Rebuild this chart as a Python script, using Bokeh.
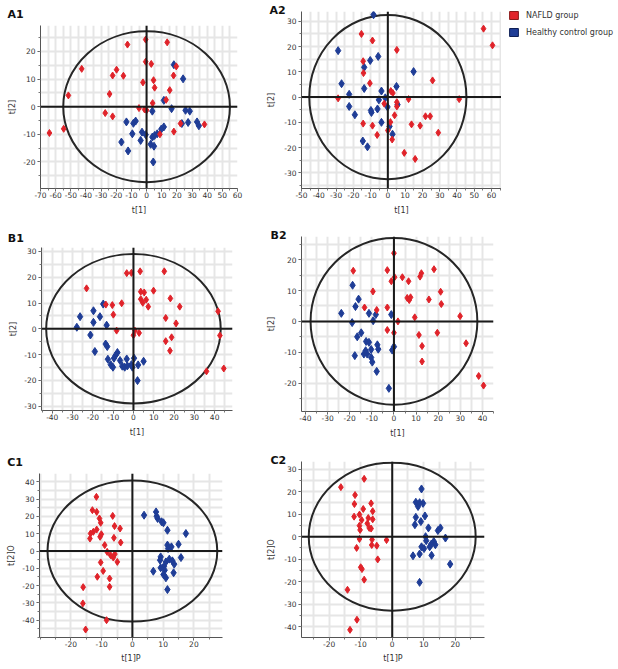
from bokeh.plotting import figure
from bokeh.layouts import row, column
from bokeh.models import Range1d, FixedTicker, Span, Title, Legend, LegendItem, Spacer
from bokeh.embed import file_html
from bokeh.resources import INLINE

RED = "#e0232a"
BLUE = "#1f3d96"
FONT = "DejaVu Sans"

# ---------------- data ----------------
a1_nafld_x = [-12.6, -0.6, 13.6, -0.6, 3.1, -42.8, -19.8, -22.4, -15.3, -2.4, 4.6, 17.8, 19.6, 5.3, 15.3, -24.4, -51.6, 4.0, 12.9, -5.0, -1.3, 0.0, -27.3, -22.4, -54.7, -64.1, 22.4, 38.2, 18.0, 8.8]
a1_nafld_y = [22.5, 24.3, 23.3, 16.3, 15.5, 13.7, 13.4, 11.3, 11.2, 8.8, 9.6, 11.3, 14.6, 6.9, 6.0, 4.6, 4.1, 1.3, 2.5, -0.5, -1.0, -1.3, -2.3, -3.5, -8.0, -9.5, -6.1, -6.4, -9.0, -10.0]
a1_ctrl_x = [18.0, 24.1, 11.4, 16.5, 25.7, 28.5, 3.8, -13.3, -7.2, -8.7, 27.4, 33.3, 34.5, 23.3, 11.4, 9.7, -9.4, -3.0, -0.6, 5.3, 3.8, -3.9, -16.6, 2.7, 4.9, -12.2, 4.4, 7.0]
a1_ctrl_y = [15.2, 10.1, 2.3, -0.7, -1.3, -1.6, -1.6, -5.5, -5.2, -6.0, -5.7, -5.5, -6.9, -6.1, -7.3, -8.1, -9.8, -9.2, -10.1, -10.4, -11.0, -12.2, -12.8, -13.6, -14.3, -16.0, -20.0, -9.8]

a2_nafld_x = [-15.3, -8.9, 5.2, -14.3, -14.1, -10.4, 25.9, 1.7, 2.9, -28.8, 12.0, 41.3, 5.2, 5.2, -2.1, 3.9, 21.8, 24.5, -14.3, -8.9, 1.5, 13.7, 18.7, -6.2, 0.0, 2.5, 29.2, 9.5, 15.8, 55.4, 60.6]
a2_nafld_y = [25.0, 22.4, 18.7, 14.2, 9.5, 5.5, 6.6, 2.4, 1.6, -0.5, -0.8, -0.8, -2.0, -3.7, -2.6, -7.2, -7.6, -7.6, -10.5, -11.3, -9.9, -10.8, -11.3, -15.0, -13.2, -16.8, -14.1, -22.1, -24.5, 27.1, 20.5]
a2_ctrl_x = [-8.3, -28.8, -5.6, -10.2, -13.7, 14.9, -26.8, -13.7, 5.0, -22.4, -3.7, -1.5, -5.2, -0.2, 5.6, -22.4, -6.0, -19.1, -9.5, -3.7, 1.0, 2.7, -14.5, -11.8, -9.8]
a2_ctrl_y = [32.6, 18.4, 16.1, 14.5, 11.8, 10.1, 5.3, 3.4, 4.2, 1.1, 2.4, -0.3, -1.1, -3.9, -3.0, -3.7, -4.7, -7.0, -6.1, -10.0, -11.6, -14.7, -17.4, -19.7, -5.3]

b1_nafld_x = [-23.1, -3.3, -1.0, 3.3, 15.2, 9.9, 5.3, 3.6, 18.2, 3.6, 6.3, 4.6, 7.3, 22.8, -5.8, -10.4, -9.9, -13.6, 41.7, 15.9, 21.0, -8.3, 0.7, 0.0, 2.8, 42.6, 18.8, 15.9, 18.0, 36.0, 44.5]
b1_nafld_y = [15.7, 21.6, 21.7, 22.3, 22.3, 14.8, 14.1, 14.4, 11.8, 11.5, 11.3, 10.1, 8.6, 8.6, 9.9, 9.2, 5.5, 9.4, 6.8, 4.2, 2.1, -0.7, -0.7, -2.5, -1.6, -2.6, -3.3, -4.8, -8.5, -16.5, -15.4]
b1_ctrl_x = [-14.9, -19.7, -26.3, -16.5, -19.7, -13.2, -27.9, -21.2, -13.7, -12.9, -19.0, -7.9, -8.8, -9.6, -12.6, -6.6, -3.3, 0.3, 5.0, -11.2, -10.1, -5.5, -4.3, -3.0, -1.0, 2.3, 2.0, -0.5]
b1_ctrl_y = [9.6, 7.0, 4.7, 4.7, 2.5, 1.4, 0.6, -2.4, -5.9, -6.9, -8.8, -9.2, -10.3, -11.4, -11.8, -12.3, -11.7, -11.4, -12.6, -13.9, -14.9, -14.5, -14.9, -14.4, -13.9, -14.0, -20.1, -14.9]

b2_nafld_x = [0.0, -18.4, -3.0, 18.1, 12.4, 11.8, 3.8, 0.3, -1.2, 6.6, -9.5, 21.1, 6.0, 7.5, 6.9, 15.8, 21.4, -13.3, -7.8, -3.0, 9.4, 29.9, 1.8, -3.0, 0.0, 11.3, 19.6, 32.6, 12.7, 12.7, 38.3, 40.5]
b2_nafld_y = [22.1, 16.4, 16.6, 16.9, 15.6, 14.5, 14.3, 14.3, 13.0, 13.0, 9.7, 9.6, 7.6, 7.8, 6.9, 7.1, 5.6, 4.5, 3.7, 4.5, 1.3, 1.7, 0.0, -2.8, -3.7, -4.4, -3.7, -7.1, -8.0, -13.0, -17.7, -20.8]
b2_ctrl_x = [-18.7, -16.0, -17.4, -23.8, -11.3, -8.2, -1.2, -18.9, -9.4, -14.8, -16.6, -12.6, -11.3, -7.5, -7.1, 0.0, -0.8, -10.3, -13.6, -12.1, -17.7, -10.3, -9.8, -7.8, -2.3, -12.8]
b2_ctrl_y = [11.7, 7.2, 4.8, 2.6, 2.6, 2.2, 2.2, -0.4, 0.2, -3.7, -5.0, -6.5, -6.8, -7.6, -9.0, -8.2, -9.3, -9.1, -10.6, -10.6, -11.1, -11.7, -13.2, -16.2, -21.7, -9.5]

c1_nafld_x = [-11.7, -13.0, -11.6, -6.4, -10.7, -10.3, -5.8, -4.0, -11.6, -12.7, -13.6, -10.1, -10.5, -13.8, -6.0, -3.8, -9.0, -8.2, -5.7, -7.1, -6.2, -10.3, -4.9, -9.5, -11.4, -7.4, -7.4, -16.0, -16.1, -8.4, -15.2]
c1_nafld_y = [31.3, 23.6, 22.6, 20.3, 18.8, 16.3, 14.4, 13.0, 12.4, 11.1, 10.1, 9.7, 8.2, 7.2, 7.6, 4.9, 3.4, -0.5, -1.8, -2.4, -3.8, -6.6, -6.3, -11.5, -14.9, -15.9, -20.7, -20.9, -30.3, -40.0, -45.4]
c1_ctrl_x = [3.8, 7.7, 7.9, 8.2, 9.5, 10.1, 11.4, 17.4, 15.0, 11.4, 12.7, 11.6, 9.2, 15.8, 12.0, 13.0, 13.6, 10.3, 9.2, 10.5, 6.8, 13.4, 10.1, 10.9, 11.4, 10.9, 9.0]
c1_ctrl_y = [20.7, 22.6, 20.1, 18.8, 16.9, 16.3, 12.0, 10.1, 3.9, 3.4, 2.4, 1.4, -3.4, -3.8, -4.7, -5.7, -7.6, -8.8, -9.7, -11.1, -11.7, -12.6, -13.6, -15.5, -22.3, -6.3, -5.3]

c2_nafld_x = [-8.9, -16.3, -11.8, -12.0, -6.7, -6.2, -9.2, -12.1, -10.4, -9.7, -7.6, -6.2, -7.9, -10.4, -10.2, -7.3, -6.7, -10.4, -6.4, -1.8, -6.5, -4.9, -11.3, -4.6, -10.0, -9.6, -8.9, -14.2, -11.2, -13.4]
c2_nafld_y = [25.7, 22.0, 18.5, 14.5, 14.8, 11.3, 12.3, 8.9, 9.8, 7.4, 8.3, 7.7, 5.9, 4.9, 3.0, 3.9, 3.6, -1.0, -1.3, -1.5, -3.7, -4.0, -5.0, -10.1, -13.6, -14.4, -19.1, -23.6, -36.9, -41.4]
c2_ctrl_x = [9.3, 7.5, 9.8, 8.2, 8.7, 10.4, 7.5, 9.1, 7.2, 11.5, 15.3, 14.5, 10.6, 16.9, 13.2, 12.4, 13.7, 9.3, 10.1, 11.9, 8.7, 6.6, 12.5, 18.4, 8.7, 10.8]
c2_ctrl_y = [21.2, 15.3, 14.8, 13.4, 15.1, 9.2, 8.6, 6.7, 5.3, 3.9, 3.9, 2.7, 0.0, -0.6, -2.1, -3.3, -3.6, -4.5, -5.3, -4.5, -7.7, -8.5, -8.3, -12.2, -20.3, -1.8]

# model ellipse semi-axes (Hotelling T2)
a1_ellipse = (55.0, 27.3)
a2_ellipse = (45.5, 32.5)
b1_ellipse = (43.0, 29.0)
b2_ellipse = (37.7, 27.0)
c1_ellipse = (27.6, 40.8)
c2_ellipse = (26.5, 32.9)

a1_xticks = list(range(-70, 61, 10)); a1_yticks = list(range(-20, 21, 10))
a2_xticks = list(range(-50, 61, 10)); a2_yticks = list(range(-30, 31, 10))
b1_xticks = list(range(-40, 41, 10)); b1_yticks = list(range(-30, 31, 10))
b2_xticks = list(range(-40, 41, 10)); b2_yticks = list(range(-20, 21, 10))
c1_xticks = list(range(-20, 21, 10)); c1_yticks = list(range(-40, 41, 10))
c2_xticks = list(range(-20, 21, 10)); c2_yticks = list(range(-40, 31, 10))

groups = ["NAFLD group", "Healthy control group"]


def panel(name, nx, ny, cx, cy, ell, xticks, yticks, xr, yr, xlabel, ylabel,
          width, height, borders, title_offset, title_standoff, yl_standoff=3, xl_standoff=5):
    bl, br, bt, bb = borders
    p = figure(width=width, height=height, output_backend="svg", toolbar_location=None,
               x_range=Range1d(*xr), y_range=Range1d(*yr),
               min_border_left=bl, min_border_right=br, min_border_top=bt, min_border_bottom=bb)
    p.title = Title(text=name, align="left", vertical_align="top", offset=title_offset,
                    standoff=title_standoff, text_font=FONT, text_font_size="11px",
                    text_font_style="bold", text_color="#111111")
    p.outline_line_color = None
    p.background_fill_color = "white"
    gx = [v for v in range(-100, 101, 5) if xr[0] <= v <= xr[1]]
    gy = [v for v in range(-100, 101, 5) if yr[0] <= v <= yr[1]]
    p.xgrid.ticker = FixedTicker(ticks=gx)
    p.ygrid.ticker = FixedTicker(ticks=gy)
    p.grid.grid_line_color = "#e6e6e6"
    p.grid.grid_line_width = 2
    p.xaxis.ticker = FixedTicker(ticks=xticks, minor_ticks=gx)
    p.yaxis.ticker = FixedTicker(ticks=yticks, minor_ticks=gy)
    p.xaxis.major_label_overrides = {t: str(t) for t in xticks}
    p.yaxis.major_label_overrides = {t: str(t) for t in yticks}
    for ax in (p.xaxis[0], p.yaxis[0]):
        ax.axis_line_color = "#555555"
        ax.major_tick_line_color = "#555555"
        ax.minor_tick_line_color = "#777777"
        ax.major_tick_out = 3
        ax.major_tick_in = 0
        ax.minor_tick_out = 2
        ax.minor_tick_in = 0
        ax.major_label_text_font = FONT
        ax.major_label_text_font_size = "7.5px"
        ax.major_label_text_color = "#333333"
        ax.axis_label_text_font = FONT
        ax.axis_label_text_font_size = "8px"
        ax.axis_label_text_font_style = "normal"
        ax.axis_label_text_color = "#333333"
    p.xaxis.axis_label = xlabel
    p.yaxis.axis_label = ylabel
    p.xaxis.major_label_standoff = 0
    p.xaxis.axis_label_standoff = xl_standoff
    p.yaxis.major_label_standoff = 2
    p.yaxis.axis_label_standoff = yl_standoff

    p.add_layout(Span(location=0, dimension="width", line_color="#1a1a1a", line_width=2))
    p.add_layout(Span(location=0, dimension="height", line_color="#1a1a1a", line_width=2))
    p.ellipse(x=[0], y=[0], width=[2 * ell[0]], height=[2 * ell[1]],
              fill_color=None, line_color="#262626", line_width=2)
    p.scatter(cx, cy, marker="diamond", size=8, fill_color=BLUE, line_color=BLUE)
    p.scatter(nx, ny, marker="diamond", size=7, fill_color=RED, line_color=RED)
    return p


a1 = panel("A1", a1_nafld_x, a1_nafld_y, a1_ctrl_x, a1_ctrl_y, a1_ellipse,
           a1_xticks, a1_yticks, (-70, 60), (-29.6, 29.4), "t[1]", "t[2]",
           258, 220, (40, 21, 23, 34), -33, 5)
a2 = panel("A2", a2_nafld_x, a2_nafld_y, a2_ctrl_x, a2_ctrl_y, a2_ellipse,
           a2_xticks, a2_yticks, (-50, 65.8), (-36.2, 33.9), "t[1]", "t[2]",
           243, 220, (43, 0, 9, 34), -32, -16, yl_standoff=5)
b1 = panel("B1", b1_nafld_x, b1_nafld_y, b1_ctrl_x, b1_ctrl_y, b1_ellipse,
           b1_xticks, b1_yticks, (-45.3, 48.8), (-31.7, 31.55), "t[1]", "t[2]",
           258, 214, (41, 26, 21, 30), -33.7, 2)
b2 = panel("B2", b2_nafld_x, b2_nafld_y, b2_ctrl_x, b2_ctrl_y, b2_ellipse,
           b2_xticks, b2_yticks, (-41.8, 45.0), (-29.2, 27.5), "t[1]", "t[2]",
           358, 214, (43, 123, 10, 29), -31, -16, yl_standoff=5)
c1 = panel("C1", c1_nafld_x, c1_nafld_y, c1_ctrl_x, c1_ctrl_y, c1_ellipse,
           c1_xticks, c1_yticks, (-30.2, 29.3), (-50.0, 44.8), "t[1]P", "t[2]O",
           258, 215, (39, 36, 22, 29), -32.3, 5, xl_standoff=4)
c2 = panel("C2", c2_nafld_x, c2_nafld_y, c2_ctrl_x, c2_ctrl_y, c2_ellipse,
           c2_xticks, c2_yticks, (-28.8, 29.3), (-44.8, 33.4), "t[1]P", "t[2]O",
           358, 215, (43, 132, 10, 29), -31, -16, yl_standoff=5, xl_standoff=4)

# legend: separate frameless figure to the right of A2; swatches are hidden
# rect renderers of each group's A2 scores (never drawn, only used by the legend)
lg = figure(width=115, height=222, output_backend="svg", toolbar_location=None,
            x_range=Range1d(-50, 65.8), y_range=Range1d(-36.2, 33.9),
            x_axis_type=None, y_axis_type=None,
            min_border_left=3, min_border_right=0, min_border_top=6, min_border_bottom=0)
lg.outline_line_color = None
lg.grid.visible = False
r_red = lg.rect(x=a2_nafld_x, y=a2_nafld_y, width=1, height=1,
                fill_color=RED, line_color="#8a1a1a", visible=False)
r_blue = lg.rect(x=a2_ctrl_x, y=a2_ctrl_y, width=1, height=1,
                 fill_color=BLUE, line_color="#0e1f55", visible=False)
legend = Legend(items=[LegendItem(label=groups[0], renderers=[r_red]),
                       LegendItem(label=groups[1], renderers=[r_blue])],
                location="top_left", margin=4, padding=4, spacing=7,
                glyph_width=11, glyph_height=10, label_height=10, label_standoff=7,
                label_text_font=FONT, label_text_font_size="8px", label_text_color="#333333",
                border_line_color=None, background_fill_alpha=0,
                inactive_fill_alpha=0)
lg.add_layout(legend)

layout = column(
    row(column(Spacer(width=258, height=2), a1), column(Spacer(width=243, height=2), a2), lg),
    row(column(Spacer(width=258, height=4), b1), column(Spacer(width=358, height=4), b2)),
    row(column(Spacer(width=258, height=11), c1), column(Spacer(width=358, height=11), c2)),
)
open("out.html", "w").write(file_html(layout, INLINE))
